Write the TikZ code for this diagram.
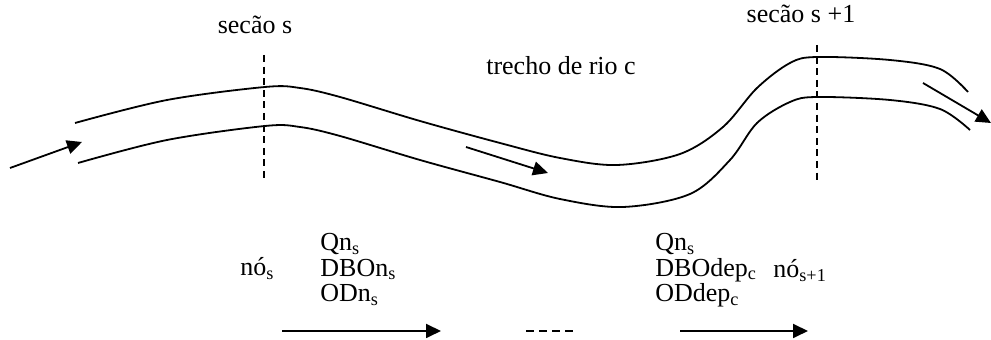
\documentclass[tikz,border=0pt]{standalone}
\usepackage{fontspec}
\setmainfont{Liberation Serif}
\usetikzlibrary{arrows.meta}

\begin{document}
\begin{tikzpicture}[x=0.5pt,y=-0.5pt,
  bank/.style={line width=0.9pt},
  flow/.style={line width=0.9pt,-{Triangle[length=7.5pt,width=7pt]}},
  secline/.style={line width=0.7pt,dash pattern=on 3.5pt off 2.3pt},
  lbl/.style={inner sep=0pt,font=\fontsize{13}{12.8}\selectfont}]
\useasboundingbox (0,0) rectangle (991,340);

% secoes
\node[lbl,anchor=base] (secS) at (255,34) {secão s};
\node[lbl,anchor=base] (secSi) at (801,23) {secão s +1};
\node[lbl,anchor=base] (trecho) at (561,75) {trecho de rio c};
\coordinate (sTop) at (264,55);
\coordinate (sBot) at (264,180);
\coordinate (siTop) at (817,45);
\coordinate (siBot) at (817,182);
\draw[secline] (sTop) -- (sBot);
\draw[secline] (siTop) -- (siBot);

% margens do rio
\draw[bank] plot[smooth,tension=0.55] coordinates {(75,123) (167,100) (265,87)
  (300,88) (340,97) (420,121) (500,143) (560,158) (617,165) (680,154)
  (723,127) (757,88) (790,63) (817,57) (890,60) (940,69) (968,92)};
\draw[bank] plot[smooth,tension=0.55] coordinates {(78,163) (167,140) (265,126)
  (300,127) (340,136) (420,160) (500,182) (560,199) (623,207) (690,194)
  (730,160) (757,123) (790,102) (817,97) (890,100) (940,109) (970,130)};

% escoamento
\coordinate (inA) at (10,168);
\coordinate (inB) at (82,142);
\coordinate (midA) at (466,147);
\coordinate (midB) at (548,173);
\coordinate (outA) at (923,83);
\coordinate (outB) at (991,123);
\draw[flow] (inA) -- (inB);
\draw[flow] (midA) -- (midB);
\draw[flow] (outA) -- (outB);

% nos
\node[lbl,anchor=base west] (noS) at (240,276) {nó\textsubscript{s}};
\node[lbl,anchor=north west,align=left] (varS) at (320,233)
  {Qn\textsubscript{s}\\DBOn\textsubscript{s}\\ODn\textsubscript{s}};
\node[lbl,anchor=north west,align=left] (varSi) at (655,233)
  {Qn\textsubscript{s}\\DBOdep\textsubscript{c}\\ODdep\textsubscript{c}};
\node[lbl,anchor=base west] (noSi) at (773,278) {nó\textsubscript{s+1}};

\coordinate (aA) at (282,331);
\coordinate (aB) at (441,331);
\coordinate (dA) at (526,331);
\coordinate (dB) at (573,331);
\coordinate (bA) at (680,331);
\coordinate (bB) at (808,331);
\draw[flow] (aA) -- (aB);
\draw[line width=0.9pt,dash pattern=on 4pt off 2.5pt] (dA) -- (dB);
\draw[flow] (bA) -- (bB);
\end{tikzpicture}
\end{document}
